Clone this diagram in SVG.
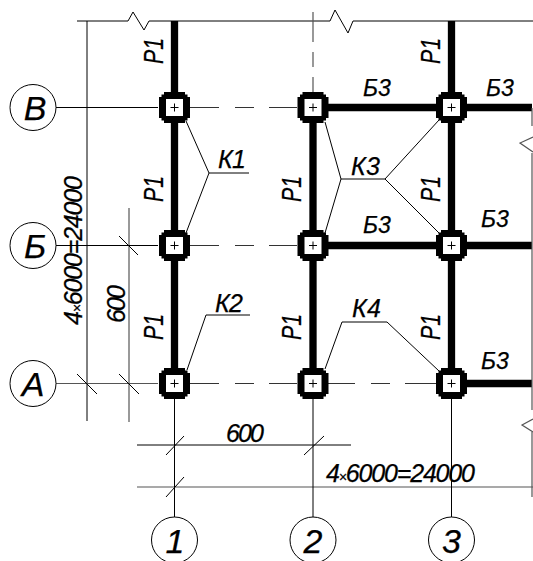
<svg xmlns="http://www.w3.org/2000/svg" width="533" height="561" viewBox="0 0 533 561">
<style>
.l{fill:none;stroke:#000;stroke-width:1}
.g{fill:none;stroke:#555;stroke-width:1.2}
.c{fill:none;stroke:#000;stroke-width:7.300}
.d{fill:none;stroke:#333;stroke-width:1.200;stroke-dasharray:29 16 19 15 60}
.o{fill:#fff;stroke:#000;stroke-width:1}
text{font-family:"Liberation Sans",Arial,sans-serif;font-style:italic;fill:#000;stroke:#000;stroke-width:.25}
.p{font-size:27px}
.b{font-size:23px}
.k{font-size:25px}
.s{font-size:14px}
.a{font-size:34px;text-anchor:middle}
</style>
<defs>
<g id="col"><path d="M-10.500-15.500H10.500V-13H13V-10.500H15.500V10.500H13V13H10.500V15.500H-10.500V13H-13V10.500H-15.500V-10.500H-13V-13H-10.500Z"/><rect x="-8.500" y="-8.500" width="17" height="17" fill="#fff"/><path d="M-4 0H4M0-4V4" stroke="#000" stroke-width="1"/></g>
</defs>
<g id="connectors">
<path class="l" d="M77 21H128L133 12L144 30L149 21H330L335 10L348 33L353 21H533"/>
<path class="l" d="M87 21V421"/>
<path class="g" d="M129 208V422"/>
<path class="l" d="M56 107.500H158M56 245.500H158"/>
<path class="g" d="M56 383.500H158M137 487H533"/>
<path class="d" d="M190 107.500H297M190 245.500H297M190 383.500H297M326 383.500H436"/>
<path class="g" d="M313 12V42M313 52V67M313 77V95"/>
<path class="l" d="M174.500 396V517M313 396V517M451.500 396V517"/>
<path class="l" d="M137 445H351"/>
<path class="l" d="M119 236L138 255M77 374L97 394M119 374L139 394M166 455L184 436M166 497L184 477M304 455L324 436"/>
<path class="c" d="M174.500 21V372M313 120V372M451.500 21V372M326 107.500H532M326 245.500H532M464 383.500H532"/>
<path class="l" d="M186 121L209 173L186 233M209 173H249M325 122L341 179L325 233M341 179H385L439 120M385 179L439 233"/>
<path class="l" d="M187 370L206 315H250M325 369L342 322H387L439 371"/>
<path class="g" d="M532 108V126M533 137L520 143L533 152M532 153V410M533 419L522 425L533 432M532 432V497"/>
</g>
<g id="node-v1"><use href="#col" x="174.500" y="107.500"/></g>
<g id="node-v2"><use href="#col" x="313" y="107.500"/></g>
<g id="node-v3"><use href="#col" x="451.500" y="107.500"/></g>
<g id="node-b1"><use href="#col" x="174.500" y="245.500"/></g>
<g id="node-b2"><use href="#col" x="313" y="245.500"/></g>
<g id="node-b3"><use href="#col" x="451.500" y="245.500"/></g>
<g id="node-a1"><use href="#col" x="174.500" y="383.500"/></g>
<g id="node-a2"><use href="#col" x="313" y="383.500"/></g>
<g id="node-a3"><use href="#col" x="451.500" y="383.500"/></g>
<g id="axis-v"><circle class="o" cx="33" cy="107.500" r="23"/><text class="a" x="35" y="119.500">В</text></g>
<g id="axis-b"><circle class="o" cx="33" cy="245.500" r="23"/><text class="a" x="35" y="257.500">Б</text></g>
<g id="axis-a"><circle class="o" cx="33" cy="383.500" r="23"/><text class="a" x="33" y="395.500">А</text></g>
<g id="axis-1"><circle class="o" cx="174.500" cy="540" r="23"/><text class="a" x="175" y="553">1</text></g>
<g id="axis-2"><circle class="o" cx="313" cy="540" r="23"/><text class="a" x="313" y="553">2</text></g>
<g id="axis-3"><circle class="o" cx="451.500" cy="540" r="23"/><text class="a" x="451.500" y="553">3</text></g>
<g id="labels">
<text class="p" textLength="26" lengthAdjust="spacingAndGlyphs" transform="translate(163 64) rotate(-90)">Р1</text>
<text class="p" textLength="26" lengthAdjust="spacingAndGlyphs" transform="translate(163 202) rotate(-90)">Р1</text>
<text class="p" textLength="26" lengthAdjust="spacingAndGlyphs" transform="translate(163 340) rotate(-90)">Р1</text>
<text class="p" textLength="26" lengthAdjust="spacingAndGlyphs" transform="translate(301 202) rotate(-90)">Р1</text>
<text class="p" textLength="26" lengthAdjust="spacingAndGlyphs" transform="translate(301 340) rotate(-90)">Р1</text>
<text class="p" textLength="26" lengthAdjust="spacingAndGlyphs" transform="translate(440 64) rotate(-90)">Р1</text>
<text class="p" textLength="26" lengthAdjust="spacingAndGlyphs" transform="translate(440 202) rotate(-90)">Р1</text>
<text class="p" textLength="26" lengthAdjust="spacingAndGlyphs" transform="translate(440 340) rotate(-90)">Р1</text>
<text class="k" x="218" y="168" textLength="28">К1</text>
<text class="k" x="215" y="312" textLength="28">К2</text>
<text class="k" x="351" y="175" textLength="29">К3</text>
<text class="k" x="352" y="317" textLength="29">К4</text>
<text class="b" x="363" y="96">Б3</text>
<text class="b" x="486" y="96">Б3</text>
<text class="b" x="363" y="233">Б3</text>
<text class="b" x="481" y="227">Б3</text>
<text class="b" x="481" y="369">Б3</text>
<text class="k" x="226" y="442" textLength="38">600</text>
<text class="k" transform="translate(125 323) rotate(-90)" textLength="38">600</text>
<text class="k" x="326" y="482" textLength="149">4<tspan class="s">×</tspan>6000=24000</text>
<text class="k" transform="translate(82 325) rotate(-90)" textLength="149">4<tspan class="s">×</tspan>6000=24000</text>
</g>
</svg>
